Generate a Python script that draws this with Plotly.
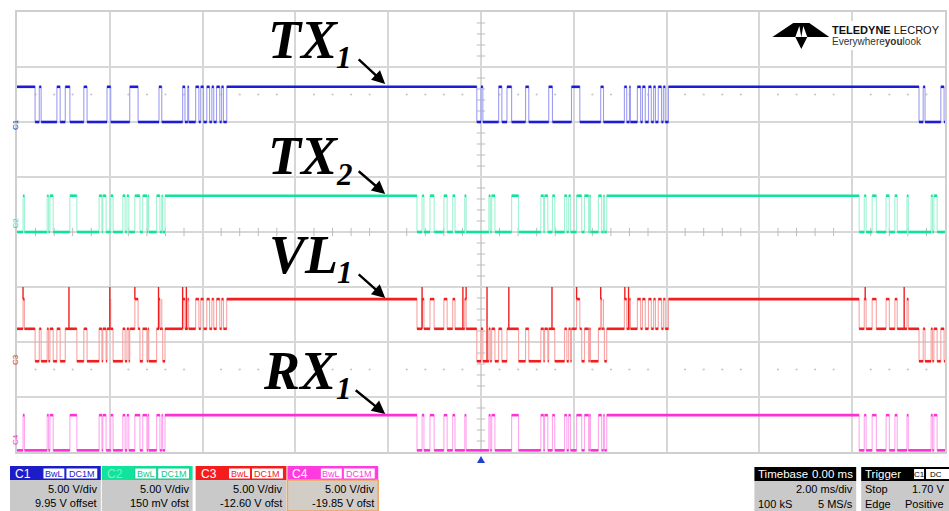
import plotly.graph_objects as go

# ---------------------------------------------------------------------------
# Acquisition data (time in ms, amplitude in screen divisions)
# ---------------------------------------------------------------------------
T_START, T_END = -10.0, 10.0          # 10 div x 2 ms/div, trigger at centre

# TX1: idle high, each frame starts with a falling edge; pulses are high slots
TX1_BURST_STARTS = [-9.61, -0.09, 9.44]
TX1_BURST_LEN = 4.13
TX1_PULSES = [(0.09, 0.13), (0.47, 0.54), (0.65, 0.75), (1.05, 1.12),
              (1.55, 1.63), (2.04, 2.22), (2.67, 2.73), (3.18, 3.23),
              (3.29, 3.31), (3.46, 3.53), (3.57, 3.63), (3.70, 3.76),
              (3.81, 3.85), (3.91, 3.98), (4.02, 4.06)]
TX1_HIGH, TX1_LOW = 2.64, 2.00

# TX2: same framing, different payload
TX2_BURST_STARTS = [-10.90, -1.38, 8.15]
TX2_BURST_LEN = 4.09
TX2_PULSES = [(0.11, 0.15), (0.28, 0.37), (0.58, 0.65), (0.77, 0.82),
              (1.03, 1.06), (1.55, 1.58), (1.61, 1.68), (2.04, 2.19),
              (2.67, 2.73), (2.75, 2.82), (2.92, 2.97), (3.18, 3.23),
              (3.27, 3.31), (3.44, 3.55), (3.61, 3.70), (3.72, 3.74),
              (3.91, 3.98), (4.02, 4.04)]
TX2_HIGH, TX2_LOW = 0.66, 0.00

# VL1: shared line level depending on how many transmitters pull it low
VL1_LEVELS = [-1.22, -1.76, -2.35]     # none low / one low / both low
VL1_SPIKE_LEVEL = -1.00
VL1_SPIKE_TIMES = [-9.87, -8.88, -8.00, -7.46, -6.95, -6.43, -6.35,
                   -1.27, -0.39, -0.32, 0.13, 0.60, 1.53, 2.06, 2.58,
                   3.10, 3.18, 8.28, 9.12]

# RX1: frame received from TX2
RX1_BURST_STARTS = [-10.90, -1.38, 8.15]
RX1_BURST_LEN = 4.09
RX1_PULSES = TX2_PULSES
RX1_HIGH, RX1_LOW = -3.33, -3.97

CHANNEL_TAGS = ["C1", "C2", "C3", "C4"]
BOX_LINES = [("5.00 V/div", "9.95 V offset"), ("5.00 V/div", "150 mV ofst"),
             ("5.00 V/div", "-12.60 V ofst"), ("5.00 V/div", "-19.85 V ofst")]

# ---------------------------------------------------------------------------
W, H = 949, 511
ML, MR, MT, MB = 17, 2, 12, 59
PW, PH = W - ML - MR, H - MT - MB


def px(x):
    return (x - ML) / PW


def py(y):
    return 1 - (y - MT) / PH


def line_state(t, starts, pulses, blen):
    """1 when the logic line is high, 0 when low."""
    for s in starts:
        if s <= t < s + blen:
            off = t - s
            for a, b in pulses:
                if a <= off < b:
                    return 1
            return 0
    return 1


def change_times(starts, pulses, blen):
    out = []
    for s in starts:
        out += [s, s + blen]
        for a, b in pulses:
            out += [s + a, s + b]
    return out


def build_segments(times, fn):
    ts = sorted(set([T_START, T_END] + [t for t in times if T_START < t < T_END]))
    segs = []
    for a, b in zip(ts[:-1], ts[1:]):
        v = fn((a + b) / 2)
        if segs and segs[-1][2] == v:
            segs[-1] = (segs[-1][0], b, v)
        else:
            segs.append((a, b, v))
    return segs


def add_wave(fig, segs, dark, light, spikes=None):
    xs, ys = [], []
    for a, b, v in segs:
        xs += [a, b]
        ys += [v, v]
    # thin, faint edges
    fig.add_trace(go.Scatter(x=xs, y=ys, mode="lines", hoverinfo="skip",
                             line=dict(color=light, width=1.1)))
    if spikes:
        sx, sy = [], []
        for t, base, top in spikes:
            sx += [t, t, None]
            sy += [base, top, None]
        fig.add_trace(go.Scatter(x=sx, y=sy, mode="lines", hoverinfo="skip",
                                 line=dict(color=dark, width=1.4)))
    # bold settled levels
    hx, hy = [], []
    for a, b, v in segs:
        hx += [a, b, None]
        hy += [v, v, None]
    fig.add_trace(go.Scatter(x=hx, y=hy, mode="lines", hoverinfo="skip",
                             line=dict(color=dark, width=2.6)))


fig = go.Figure()

# graticule centre-line ticks and dot rows
cx = [k * 0.4 for k in range(-25, 26) if k % 5 != 0]
cy = [k * 0.2 for k in range(-20, 21) if k % 5 != 0]
fig.add_trace(go.Scatter(x=[0] * len(cy), y=cy, mode="markers", hoverinfo="skip",
                         marker=dict(symbol="line-ew", size=6,
                                     line=dict(color="#bdbdbd", width=1))))
fig.add_trace(go.Scatter(x=cx, y=[0] * len(cx), mode="markers", hoverinfo="skip",
                         marker=dict(symbol="line-ns", size=6,
                                     line=dict(color="#bdbdbd", width=1))))
for row in (2.5, -2.5):
    fig.add_trace(go.Scatter(x=cx, y=[row] * len(cx), mode="markers", hoverinfo="skip",
                             marker=dict(symbol="circle", size=2.2, color="#c6c6c6")))

# C1 / TX1
tx1_fn = lambda t: TX1_HIGH if line_state(t, TX1_BURST_STARTS, TX1_PULSES, TX1_BURST_LEN) else TX1_LOW
add_wave(fig, build_segments(change_times(TX1_BURST_STARTS, TX1_PULSES, TX1_BURST_LEN), tx1_fn),
         "#1c1cd6", "#9d9df2")

# C2 / TX2
tx2_fn = lambda t: TX2_HIGH if line_state(t, TX2_BURST_STARTS, TX2_PULSES, TX2_BURST_LEN) else TX2_LOW
add_wave(fig, build_segments(change_times(TX2_BURST_STARTS, TX2_PULSES, TX2_BURST_LEN), tx2_fn),
         "#0fe39a", "#9ff3d3")


# C3 / VL1
def vl1_fn(t):
    lows = (1 - line_state(t, TX1_BURST_STARTS, TX1_PULSES, TX1_BURST_LEN)) + \
           (1 - line_state(t, TX2_BURST_STARTS, TX2_PULSES, TX2_BURST_LEN))
    return VL1_LEVELS[lows]


vl_times = change_times(TX1_BURST_STARTS, TX1_PULSES, TX1_BURST_LEN) + \
    change_times(TX2_BURST_STARTS, TX2_PULSES, TX2_BURST_LEN)
vl_spikes = [(t, vl1_fn(t), VL1_SPIKE_LEVEL) for t in VL1_SPIKE_TIMES]
add_wave(fig, build_segments(vl_times, vl1_fn), "#f01e1e", "#f7a4a4", vl_spikes)

# C4 / RX1
rx1_fn = lambda t: RX1_HIGH if line_state(t, RX1_BURST_STARTS, RX1_PULSES, RX1_BURST_LEN) else RX1_LOW
add_wave(fig, build_segments(change_times(RX1_BURST_STARTS, RX1_PULSES, RX1_BURST_LEN), rx1_fn),
         "#ff2ed6", "#ffa6ee")

shapes = []
annotations = []


def rect(x0, y0, x1, y1, fill, line=None, lw=1):
    shapes.append(dict(type="rect", xref="paper", yref="paper",
                       x0=px(x0), x1=px(x1), y0=py(y1), y1=py(y0),
                       fillcolor=fill, layer="above",
                       line=dict(color=line or fill, width=lw if line else 0)))


def text(x, y, s, size=11, color="black", anchor="left", family="Liberation Sans, Arial", **kw):
    annotations.append(dict(xref="paper", yref="paper", x=px(x), y=py(y), text=s,
                            showarrow=False, xanchor=anchor, yanchor="middle",
                            font=dict(family=family, size=size, color=color, **kw)))


# signal names with arrows
SERIF = "Liberation Serif, Times New Roman, serif"
LABELS = [("TX", "1", 267, 40, 57, (358, 58), (386, 84)),
          ("TX", "2", 267, 156, 174, (358, 170), (386, 194)),
          ("VL", "1", 268, 255, 272, (358, 273), (386, 298)),
          ("RX", "1", 262, 371, 388, (355, 389), (386, 414))]
for main, sub, x, yc, ys, (ax0, ay0), (ax1, ay1) in LABELS:
    text(x, yc, main, size=54, family=SERIF, weight="bold", style="italic")
    text(x + 68 + (5 if main == "RX" else 0), ys, sub,
         size=31, family=SERIF, weight="bold", style="italic")
    annotations.append(dict(xref="paper", yref="paper", x=px(ax1), y=py(ay1),
                            axref="pixel", ayref="pixel", ax=ax0 - ax1, ay=ay0 - ay1,
                            text="", showarrow=True, arrowhead=2, arrowsize=1.1,
                            arrowwidth=2.4, arrowcolor="black"))

# channel ground tags at the left edge
for tag, (yy, col) in zip(CHANNEL_TAGS, [(117, "#1c1cd6"), (223, "#0fe39a"),
                                         (367, "#f01e1e"), (447, "#ff2ed6")]):
    annotations.append(dict(xref="paper", yref="paper", x=px(9), y=py(yy), text=tag,
                            showarrow=False, textangle=-90,
                            font=dict(family="Liberation Sans, Arial", size=8, color=col)))

# trigger position marker
shapes.append(dict(type="path", xref="paper", yref="paper", layer="above",
                   path=f"M {px(478)},{py(463)} L {px(486)},{py(463)} L {px(482)},{py(456)} Z",
                   fillcolor="#2040d0", line=dict(width=0)))

# logo
rect(770, 21, 946, 50, "white")
logo = [(774, 37), (795, 23), (811, 23), (831, 37), (809, 37), (803, 49), (797, 37)]
path = "M " + " L ".join(f"{px(a)},{py(b)}" for a, b in logo) + " Z"
shapes.append(dict(type="path", xref="paper", yref="paper", layer="above", path=path,
                   fillcolor="black", line=dict(width=0)))
notch = [(797, 37), (801, 26), (803, 37)]
shapes.append(dict(type="path", xref="paper", yref="paper", layer="above",
                   path="M " + " L ".join(f"{px(a)},{py(b)}" for a, b in notch) + " Z",
                   fillcolor="white", line=dict(width=0)))
notch = [(803, 37), (805, 26), (809, 37)]
shapes.append(dict(type="path", xref="paper", yref="paper", layer="above",
                   path="M " + " L ".join(f"{px(a)},{py(b)}" for a, b in notch) + " Z",
                   fillcolor="white", line=dict(width=0)))
text(832, 30, "<b>TELEDYNE</b> LECROY", size=11, color="#111111")
text(832, 42, "Everywhere<b>you</b>look", size=10, color="#333333")

# channel descriptor boxes
BOX_STYLE = [(10, "#1c1cc8", "white", "#1c1cc8", None, "#c9c9c9"),
             (102, "#12e39c", "#7ff0c8", "#12c98a", None, "#c9c9c9"),
             (196, "#f51c1c", "white", "#f51c1c", None, "#c9c9c9"),
             (288, "#ff3ade", "white", "#ff3ade", "#f2a462", "#d3cdc8")]
for tag, (l1, l2), (x0, head, tcol, bcol, border, body) in zip(CHANNEL_TAGS, BOX_LINES, BOX_STYLE):
    x1 = x0 + 91
    rect(x0, 466, x1, 480, head)
    rect(x0, 480, x1, 511, body, border, 1.5)
    rect(x0 + 33, 468, x0 + 55, 479, "white", bcol, 1)
    rect(x0 + 56, 468, x0 + 88, 479, "white", bcol, 1)
    text(x0 + 3, 473.5, tag, size=12, color=tcol)
    text(x0 + 44, 473.5, "BwL", size=9, color=bcol, anchor="center")
    text(x0 + 72, 473.5, "DC1M", size=9, color=bcol, anchor="center")
    text(x1 - 2, 489, l1, size=11, anchor="right")
    text(x1 - 2, 503, l2, size=11, anchor="right")

# timebase box
rect(756, 467, 858, 481, "black")
rect(756, 481, 858, 511, "#c9c9c9")
text(758, 474, "Timebase", size=11.5, color="white")
text(857, 474, "0.00 ms", size=11.5, color="white", anchor="right")
text(857, 489, "2.00 ms/div", size=11, anchor="right")
text(758, 504, "100 kS", size=11)
text(857, 504, "5 MS/s", size=11, anchor="right")

# trigger box
rect(863, 467, 960, 481, "black")
rect(863, 481, 960, 511, "#c9c9c9")
text(865, 474, "Trigger", size=11.5, color="white")
rect(916, 469, 926, 479, "white")
rect(928, 469, 960, 479, "white")
text(921, 474, "C1", size=8, anchor="center")
text(930, 474, "DC", size=8)
text(865, 489, "Stop", size=11)
text(948, 489, "1.70 V", size=11, anchor="right")
text(865, 504, "Edge", size=11)
text(948, 504, "Positive", size=11, anchor="right")

GRID = "#d7d7d7"
axis_common = dict(showgrid=True, gridcolor=GRID, gridwidth=1.5, zeroline=False,
                   showticklabels=False, ticks="", showline=True, mirror=True,
                   linecolor="#cfcfcf", linewidth=1.5, fixedrange=True)
fig.update_layout(
    width=W, height=H,
    margin=dict(l=ML, r=MR, t=MT, b=MB),
    paper_bgcolor="white", plot_bgcolor="white",
    showlegend=False,
    xaxis=dict(range=[T_START, T_END], dtick=2, tick0=0, **axis_common),
    yaxis=dict(range=[-4, 4], dtick=1, tick0=0, **axis_common),
    shapes=shapes, annotations=annotations,
)

fig.write_html("out.html")
